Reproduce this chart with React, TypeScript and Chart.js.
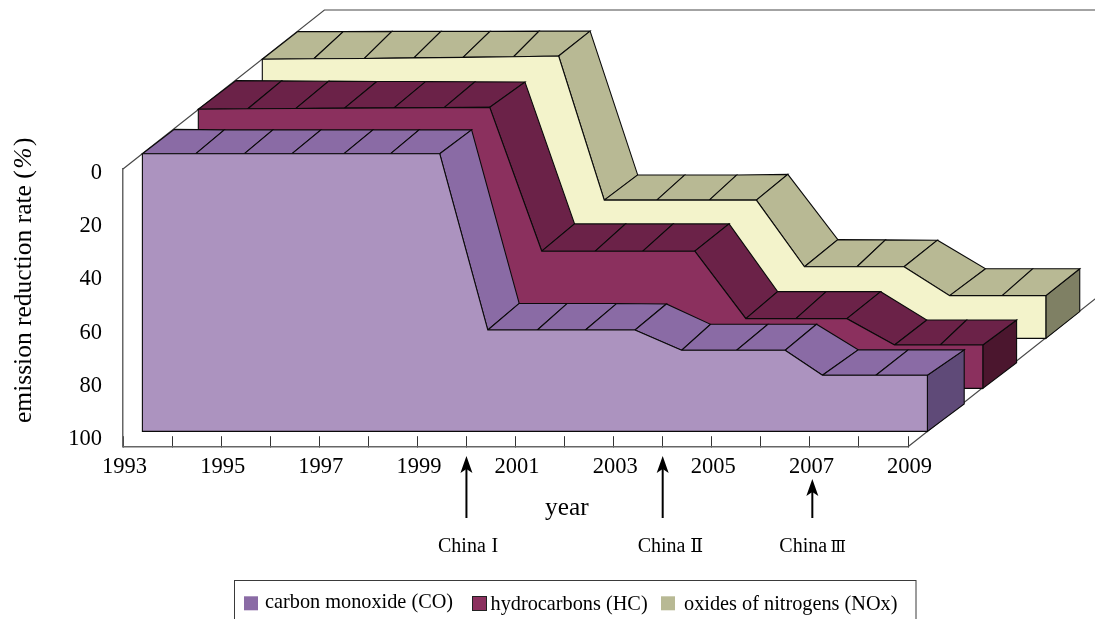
import React, { useEffect, useRef } from "react";
import { Chart, registerables } from "chart.js";

Chart.register(...registerables);

// ---------- data ----------
const SERIF = '"Liberation Serif", "Times New Roman", serif';

const coFrontYears = [1993, 1994.09, 1995.08, 1996.05, 1997.11, 1998.06, 1999.06, 2000.04, 2001.05, 2002.03, 2003.04, 2003.99, 2005.11, 2006.1, 2006.86, 2007.95, 2009];
const coFrontValues = [0, 0, 0, 0, 0, 0, 0, 63.5, 63.5, 63.5, 63.5, 70.8, 70.8, 70.8, 79.8, 79.8, 79.8];
const coBackYears = [1993, 1994.02, 1995.01, 1995.99, 1997.05, 1997.99, 1999.06, 2000.03, 2001.01, 2002.02, 2003.03, 2003.93, 2005.1, 2006.09, 2006.94, 2007.96, 2009.1];
const coBackValues = [0.3, 0.5, 0.5, 0.5, 0.5, 0.5, 0.5, 63, 63, 63, 63.2, 70.5, 70.5, 70.5, 79.7, 79.7, 79.7];
const coFloor = [100, 99.2];

const hcFrontYears = [1993, 1994.01, 1994.99, 1995.98, 1996.99, 1998.01, 1998.94, 2000, 2001.09, 2002.06, 2003.12, 2004.16, 2005.18, 2006.22, 2007.19, 2008.12, 2008.99];
const hcFrontValues = [-0.1, -0.3, -0.4, -0.5, -0.6, -0.7, -0.8, 51, 51, 51, 51, 75.3, 75.3, 75.3, 84.8, 84.8, 84.8];
const hcBackYears = [1993, 1993.93, 1994.89, 1995.87, 1996.87, 1997.87, 1998.89, 1999.9, 2000.94, 2001.91, 2003.05, 2004.04, 2005.03, 2006.14, 2007.08, 2007.89, 2008.91];
const hcBackValues = [0.3, 0.4, 0.5, 0.6, 0.6, 0.7, 0.8, 51.9, 51.9, 51.9, 51.9, 76.3, 76.3, 76.3, 86.5, 86.5, 86.5];
const hcFloor = [100.4, 101.9];

const noxFrontYears = [1993, 1994.05, 1995.08, 1996.09, 1997.09, 1998.12, 1999.04, 1999.97, 2001.04, 2002.11, 2003.07, 2004.05, 2005.12, 2006.08, 2007.01, 2008.08, 2008.97];
const noxFrontValues = [0.1, -0.1, -0.2, -0.4, -0.6, -0.8, -1.1, 50.8, 50.8, 50.8, 50.8, 74.8, 74.8, 74.8, 85.2, 85.2, 85.2];
const noxBackYears = [1993, 1993.93, 1994.92, 1995.92, 1996.92, 1997.92, 1998.96, 1999.93, 2000.89, 2001.95, 2002.99, 2004.01, 2004.98, 2006.04, 2007.02, 2007.98, 2008.94];
const noxBackValues = [0.2, 0.2, 0.1, 0.1, 0.1, 0, 0, 51.8, 51.8, 51.8, 51.6, 75.1, 75.2, 75.3, 85.6, 85.6, 85.6];
const noxFloor = [100.6, 101];

const seriesLabels = ["carbon monoxide (CO)", "hydrocarbons (HC)", "oxides of nitrogens (NOx)"];
const standardYears = [2000, 2004, 2007.05];
const standardNames = ["China", "China", "China"];
const standardNumerals = ["I", "Ⅱ", "Ⅲ"];
const valueTicks = [0, 100];
const yearRange = [1993, 2009];

// ---------- styling and projection ----------
const DEPTH_X = 201.4;
const DEPTH_Y = 159;
const INK = "#0a0a0a";
const AXIS = "#666666";

const styles = [
  { zFront: 0.0963, zBack: 0.2547, front: "#ac93bf", top: "#8a6ba5", cap: "#5f4a78" },
  { zFront: 0.3739, zBack: 0.5611, front: "#8b305e", top: "#6b2248", cap: "#4b162e" },
  { zFront: 0.6917, zBack: 0.8674, front: "#f3f3cb", top: "#b8b994", cap: "#7f8064" },
];
const backs = [
  { years: coBackYears, values: coBackValues, floor: coFloor },
  { years: hcBackYears, values: hcBackValues, floor: hcFloor },
  { years: noxBackYears, values: noxBackValues, floor: noxFloor },
];
const fronts = [
  { years: coFrontYears, values: coFrontValues },
  { years: hcFrontYears, values: hcFrontValues },
  { years: noxFrontYears, values: noxFrontValues },
];

const poly = (ctx: any, pts: number[][], fill: string) => {
  ctx.beginPath();
  pts.forEach((p, i) => (i ? ctx.lineTo(p[0], p[1]) : ctx.moveTo(p[0], p[1])));
  ctx.closePath();
  ctx.fillStyle = fill;
  ctx.fill();
  ctx.strokeStyle = INK;
  ctx.lineWidth = 1.1;
  ctx.lineJoin = "miter";
  ctx.stroke();
};

const ribbonPlugin = {
  id: "ribbons",
  beforeDatasetsDraw(chart: any) {
    const { ctx } = chart;
    const xs = chart.scales.x;
    const ys = chart.scales.y;
    const at = (year: number, value: number, z: number) => [
      xs.getPixelForValue(year) + z * DEPTH_X,
      ys.getPixelForValue(value) - z * DEPTH_Y,
    ];
    ctx.save();
    // floor and wall edges of the box
    ctx.strokeStyle = "#484848";
    ctx.lineWidth = 1.2;
    const a = at(yearRange[0], valueTicks[0], 0);
    const b = at(yearRange[0], valueTicks[0], 1);
    const c = at(yearRange[1], valueTicks[0], 1);
    const d = at(yearRange[1], valueTicks[1], 0);
    const e = at(yearRange[1], valueTicks[1], 1);
    ctx.beginPath();
    ctx.moveTo(a[0], a[1]);
    ctx.lineTo(b[0], b[1]);
    ctx.lineTo(c[0], c[1]);
    ctx.moveTo(d[0], d[1]);
    ctx.lineTo(e[0], e[1]);
    ctx.stroke();

    // ribbons, back to front
    for (let s = 2; s >= 0; s--) {
      const st = styles[s];
      const f = fronts[s];
      const k = backs[s];
      const last = f.years.length - 1;
      const fp = f.years.map((y, i) => at(y, f.values[i], st.zFront));
      const bp = k.years.map((y, i) => at(y, k.values[i], st.zBack));
      poly(
        ctx,
        [
          fp[last],
          bp[last],
          at(k.years[last], k.floor[1], st.zBack),
          at(f.years[last], k.floor[0], st.zFront),
        ],
        st.cap
      );
      for (let i = 0; i < last; i++) {
        poly(ctx, [fp[i], fp[i + 1], bp[i + 1], bp[i]], st.top);
      }
      poly(
        ctx,
        [...fp, at(f.years[last], k.floor[0], st.zFront), at(f.years[0], k.floor[0], st.zFront)],
        st.front
      );
    }
    ctx.restore();
  },
  afterDraw(chart: any) {
    const { ctx } = chart;
    const xs = chart.scales.x;
    ctx.save();
    ctx.fillStyle = "#000";
    ctx.textBaseline = "alphabetic";

    // value axis title, with an italic percent sign
    ctx.save();
    ctx.translate(31, 423);
    ctx.rotate(-Math.PI / 2);
    ctx.textAlign = "left";
    let cx = 0;
    const run = (t: string, font: string, gap: number) => {
      ctx.font = font;
      ctx.fillText(t, cx, 0);
      cx += ctx.measureText(t).width + gap;
    };
    run("emission reduction rate (", `25.5px ${SERIF}`, 1.5);
    run("%", `italic 25.5px ${SERIF}`, 1.5);
    run(")", `25.5px ${SERIF}`, 0);
    ctx.restore();

    // year axis title
    ctx.font = `25.3px ${SERIF}`;
    ctx.textAlign = "center";
    ctx.fillText("year", 566.8, 515);

    // emission standards
    const tips = [456, 456, 479];
    const nameX = [438, 637.7, 779.3];
    const numeralX = [491.5, 690.2, 830.4];
    const numeralFont = [`20px ${SERIF}`, `19px "DejaVu Serif", ${SERIF}`, `16px "DejaVu Serif", ${SERIF}`];
    standardYears.forEach((yr, i) => {
      const x = xs.getPixelForValue(yr);
      const tip = tips[i];
      ctx.strokeStyle = "#000";
      ctx.lineWidth = 2;
      ctx.beginPath();
      ctx.moveTo(x, 518);
      ctx.lineTo(x, tip + 10);
      ctx.stroke();
      ctx.beginPath();
      ctx.moveTo(x, tip);
      ctx.lineTo(x + 6, tip + 17);
      ctx.lineTo(x, tip + 13);
      ctx.lineTo(x - 6, tip + 17);
      ctx.closePath();
      ctx.fill();
      ctx.textAlign = "left";
      ctx.font = `20px ${SERIF}`;
      ctx.fillText(standardNames[i], nameX[i], 552);
      ctx.font = numeralFont[i];
      ctx.fillText(standardNumerals[i], numeralX[i], 552);
    });

    // legend
    ctx.strokeStyle = "#3a3a3a";
    ctx.lineWidth = 1;
    ctx.strokeRect(234.5, 580.5, 681.5, 60);
    const boxX = [244, 472.5, 661];
    const textX = [265, 490.5, 684];
    const baseY = [607.5, 609.5, 610];
    ctx.textAlign = "left";
    ctx.font = `20.3px ${SERIF}`;
    seriesLabels.forEach((t, i) => {
      ctx.fillStyle = i === 1 ? styles[1].front : styles[i].top;
      ctx.fillRect(boxX[i], 596.3, 14, 14);
      if (i === 1) {
        ctx.strokeStyle = "#222";
        ctx.strokeRect(boxX[i], 596.5, 14, 14);
      }
      ctx.fillStyle = "#000";
      ctx.fillText(t, textX[i], baseY[i]);
    });
    ctx.restore();
  },
};

export default function App() {
  const ref = useRef<HTMLCanvasElement>(null);
  useEffect(() => {
    document.body.style.margin = "0";
    const chart = new Chart(ref.current as HTMLCanvasElement, {
      type: "scatter",
      data: {
        datasets: seriesLabels.map((label, s) => ({
          label,
          data: fronts[s].years.map((x, i) => ({ x, y: fronts[s].values[i] })),
          showLine: false,
          pointRadius: 0,
          backgroundColor: styles[s].top,
        })),
      },
      options: {
        animation: false,
        responsive: false,
        devicePixelRatio: 1,
        layout: { padding: { top: 169, right: 187, left: 0, bottom: 0 } },
        plugins: { legend: { display: false }, title: { display: false }, tooltip: { enabled: false } },
        scales: {
          x: {
            type: "linear",
            min: yearRange[0],
            max: yearRange[1],
            afterFit: (s: any) => {
              s.height = 172.3;
            },
            border: { display: true, color: AXIS, width: 1.5 },
            grid: { drawOnChartArea: false, drawTicks: true, tickLength: -10.5, color: "#333", lineWidth: 1 },
            ticks: {
              stepSize: 1,
              autoSkip: false,
              maxRotation: 0,
              padding: 17,
              labelOffset: 1.5,
              color: "#000",
              font: { family: SERIF, size: 22.5 },
              callback: (v: any) => ((v - yearRange[0]) % 2 === 0 ? String(v) : ""),
            },
          },
          y: { type: "linear", reverse: true, min: valueTicks[0], max: valueTicks[1], display: false },
          yLabels: {
            type: "linear",
            position: "left",
            reverse: true,
            min: -1.4,
            max: 102.76,
            afterFit: (s: any) => {
              s.width = 123;
            },
            border: { display: true, color: AXIS, width: 1.5 },
            grid: { drawOnChartArea: false, drawTicks: false },
            ticks: {
              stepSize: 20,
              includeBounds: false,
              padding: 21,
              color: "#000",
              font: { family: SERIF, size: 22.5 },
              callback: (v: any) => String(v),
            },
          },
        },
      } as any,
      plugins: [ribbonPlugin],
    } as any);
    return () => chart.destroy();
  }, []);
  return <canvas ref={ref} width={1095} height={619} style={{ display: "block" }} />;
}
